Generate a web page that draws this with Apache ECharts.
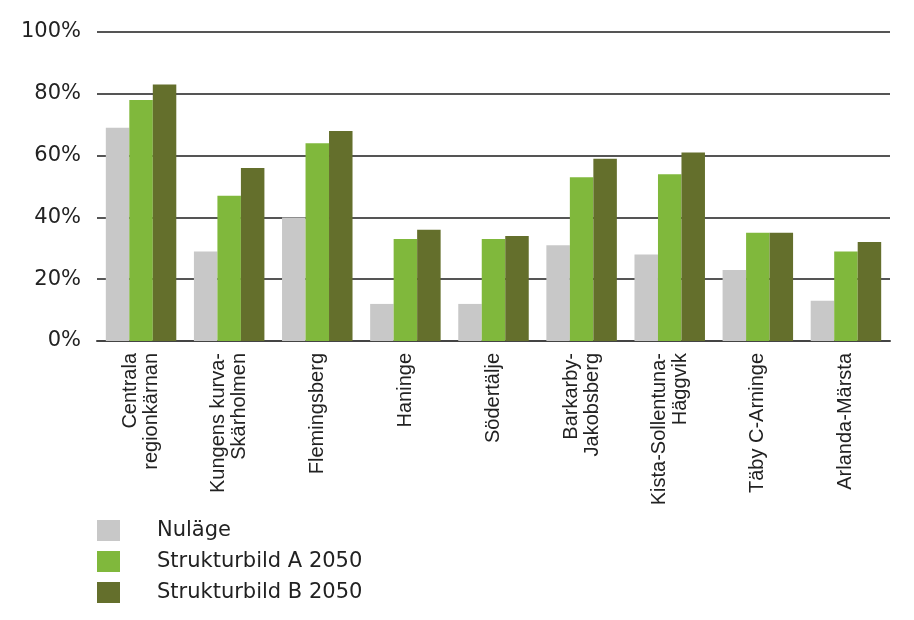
<!DOCTYPE html>
<html>
<head>
<meta charset="utf-8">
<script src="https://cdn.jsdelivr.net/npm/echarts@6/dist/echarts.min.js"></script>
<style>html,body{margin:0;padding:0;background:#fff}#c{width:914px;height:620px}</style>
</head>
<body>
<div id="c"></div>
<script>
var categories = ["Centrala\nregionkärnan","Kungens kurva-\nSkärholmen","Flemingsberg","Haninge","Södertälje","Barkarby-\nJakobsberg","Kista-Sollentuna-\nHäggvik","Täby C-Arninge","Arlanda-Märsta"];
var seriesNames = ["Nuläge","Strukturbild A 2050","Strukturbild B 2050"];
var nulage = [69,29,40,12,12,31,28,23,13];
var strukturA = [78,47,64,33,33,53,54,35,29];
var strukturB = [83,56,68,36,34,59,61,35,32];
var colors = ["#c8c8c8","#80b83c","#646f2c"];

var chart = echarts.init(document.getElementById('c'));
var data = [nulage, strukturA, strukturB];
chart.setOption({
  animation:false,
  grid:{left:97,right:24,top:32,bottom:279,containLabel:false},
  legend:{
    orient:'vertical', left:97, top:520, padding:0,
    itemWidth:23, itemHeight:21, itemGap:10,
    icon:'rect',
    textStyle:{fontFamily:'DejaVu Sans',fontSize:21,color:'#222',padding:[0,0,0,32]},
    data:seriesNames
  },
  xAxis:{
    type:'category', data:categories,
    axisLine:{show:true,lineStyle:{color:'#444',width:2}},
    axisTick:{show:false},
    axisLabel:{rotate:90,interval:0,margin:12,fontFamily:'Liberation Sans',fontSize:20,lineHeight:21,color:'#222'}
  },
  yAxis:{
    type:'value', min:0, max:100, interval:20,
    axisLine:{show:false}, axisTick:{show:false},
    axisLabel:{formatter:'{value}%',margin:16,fontFamily:'DejaVu Sans',fontSize:21,color:'#222'},
    splitLine:{lineStyle:{color:'#555',width:2}}
  },
  series:seriesNames.map(function(n,i){
    return {name:n,type:'bar',data:data[i],barGap:'0%',barCategoryGap:'20%',itemStyle:{color:colors[i]}};
  })
});
</script>
</body>
</html>
